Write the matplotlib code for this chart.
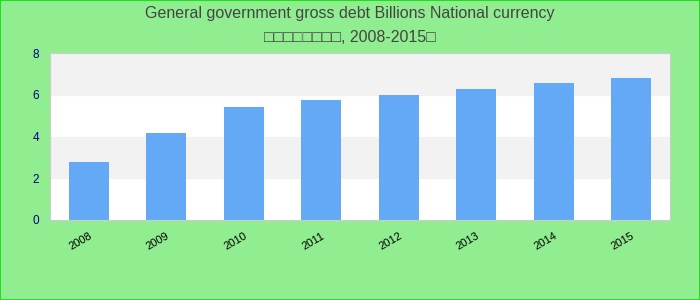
import matplotlib
matplotlib.use("Agg")
import matplotlib.pyplot as plt
from matplotlib.patches import Rectangle

plt.rcParams["font.family"] = ["Liberation Sans", "DejaVu Sans"]

years = ["2008", "2009", "2010", "2011", "2012", "2013", "2014", "2015"]
debt = [2.78, 4.16, 5.41, 5.74, 5.98, 6.27, 6.56, 6.80]

fig = plt.figure(figsize=(7, 3), dpi=100, facecolor="#90ee90")
ax = fig.add_axes([50 / 700, 80 / 300, 620 / 700, 167 / 300])
ax.set_facecolor("white")

# alternating grid bands
for lo in (2, 6):
    ax.axhspan(lo, lo + 2, color="#f2f2f2", zorder=0)

x = range(len(years))
ax.bar(x, debt, width=0.52, color="#63a9f5", zorder=2)

ax.set_xlim(-0.5, len(years) - 0.5)
ax.set_ylim(0, 8)
ax.set_yticks([0, 2, 4, 6, 8])
ax.tick_params(axis="y", length=0, labelsize=8.5, labelcolor="#000080", pad=8)
ax.tick_params(axis="x", length=0, labelsize=8, pad=8)
ax.set_xticks(list(x))
ax.set_xticklabels(years, rotation=30, ha="right", rotation_mode="anchor")
for s in ax.spines.values():
    s.set_color("#cccccc")

fig.text(0.5, 0.955, "General government gross debt Billions National currency",
         ha="center", va="center", fontsize=11.5, color="#444444")
fig.text(0.5, 0.875, "\u25a1\u25a1\u25a1\u25a1\u25a1\u25a1\u25a1\u25a1, 2008-2015\u25a1",
         ha="center", va="center", fontsize=11.5, color="#444444")

fig.patches.append(Rectangle((0, 0), 1, 1, transform=fig.transFigure, fill=False,
                             edgecolor="#22dd22", linewidth=1.5))

fig.savefig("out.png", facecolor=fig.get_facecolor())
